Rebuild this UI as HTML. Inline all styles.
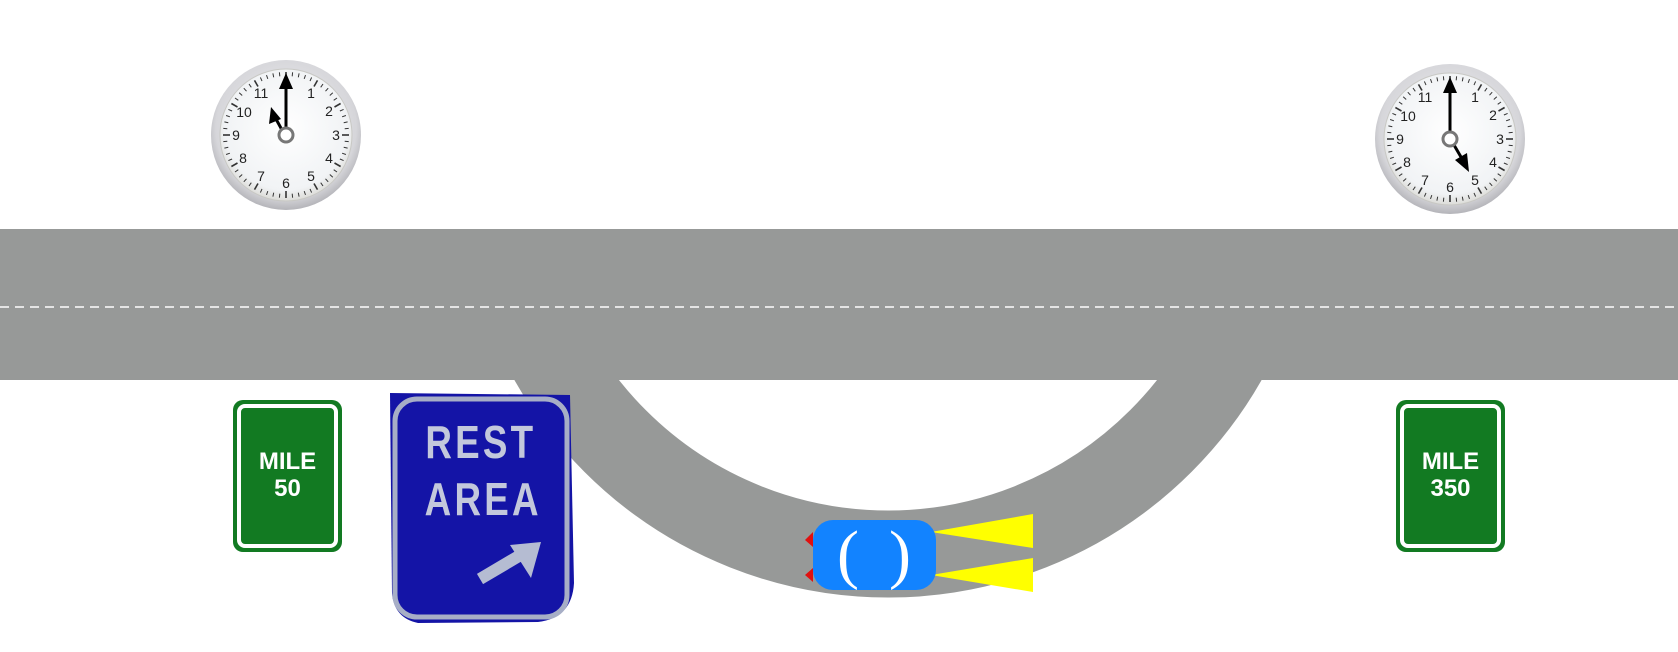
<!DOCTYPE html>
<html><head><meta charset="utf-8"><style>
html,body{margin:0;padding:0;background:#fff;}
svg{display:block;}
</style></head><body>
<svg id="s" width="1678" height="652" viewBox="0 0 1678 652" xmlns="http://www.w3.org/2000/svg">
<defs>
<radialGradient id="bez" cx="50%" cy="45%" r="55%">
<stop offset="0%" stop-color="#f4f4f6"/><stop offset="85%" stop-color="#d6d6da"/><stop offset="100%" stop-color="#b4b4b9"/>
</radialGradient>
<radialGradient id="face" cx="50%" cy="45%" r="55%">
<stop offset="0%" stop-color="#ffffff"/><stop offset="85%" stop-color="#f1f3f5"/><stop offset="100%" stop-color="#dcdcd8"/>
</radialGradient>
</defs>
<circle cx="888" cy="168" r="386" fill="none" stroke="#979998" stroke-width="87"/>
<rect x="0" y="0" width="1678" height="229" fill="#fff"/>
<rect x="0" y="229" width="1678" height="151" fill="#979998"/>
<line x1="0" y1="307" x2="1678" y2="307" stroke="#e4e4e4" stroke-width="2" stroke-dasharray="9,6"/>

<g transform="translate(286,135)">
<circle r="75" fill="url(#bez)"/>
<circle r="66" fill="url(#face)" stroke="#c8c8c4" stroke-width="1"/>
<g id="t1"></g>
<g font-family="Liberation Sans, sans-serif" font-size="14" fill="#222" text-anchor="middle">
<text x="25" y="-37">1</text><text x="43" y="-19">2</text><text x="50" y="5">3</text><text x="43" y="28">4</text><text x="25" y="46">5</text><text x="0" y="53">6</text><text x="-25" y="46">7</text><text x="-43" y="28">8</text><text x="-50" y="5">9</text><text x="-42" y="-18">10</text><text x="-25" y="-37">11</text>
</g>
<line x1="0" y1="-7" x2="0" y2="-48" stroke="#000" stroke-width="3"/>
<polygon points="0,-62 -7,-46 7,-46" fill="#000"/>
<line x1="-4" y1="-5" x2="-10" y2="-16" stroke="#000" stroke-width="3"/>
<polygon points="-15,-28 -17,-11 -5,-16" fill="#000"/>
<circle r="7" fill="#fff" stroke="#777" stroke-width="3"/>
</g>
<g transform="translate(1450,139)">
<circle r="75" fill="url(#bez)"/>
<circle r="66" fill="url(#face)" stroke="#c8c8c4" stroke-width="1"/>
<g id="t2"></g>
<g font-family="Liberation Sans, sans-serif" font-size="14" fill="#222" text-anchor="middle">
<text x="25" y="-37">1</text><text x="43" y="-19">2</text><text x="50" y="5">3</text><text x="43" y="28">4</text><text x="25" y="46">5</text><text x="0" y="53">6</text><text x="-25" y="46">7</text><text x="-43" y="28">8</text><text x="-50" y="5">9</text><text x="-42" y="-18">10</text><text x="-25" y="-37">11</text>
</g>
<line x1="0" y1="-7" x2="0" y2="-48" stroke="#000" stroke-width="3"/>
<polygon points="0,-62 -7,-46 7,-46" fill="#000"/>
<line x1="4" y1="6" x2="11" y2="18" stroke="#000" stroke-width="3"/>
<polygon points="19,33 5,21 17,14" fill="#000"/>
<circle r="7" fill="#fff" stroke="#777" stroke-width="3"/>
</g>

<g transform="translate(233,400)">
<rect x="0" y="0" width="109" height="152" rx="10" fill="#127a22"/>
<rect x="6" y="6" width="97" height="140" rx="6" fill="none" stroke="#fff" stroke-width="4"/>
<text x="54.5" y="69" font-family="Liberation Sans, sans-serif" font-weight="bold" font-size="24" fill="#fff" text-anchor="middle">MILE</text>
<text x="54.5" y="96" font-family="Liberation Sans, sans-serif" font-weight="bold" font-size="24" fill="#fff" text-anchor="middle">50</text>
</g>
<g transform="translate(1396,400)">
<rect x="0" y="0" width="109" height="152" rx="10" fill="#127a22"/>
<rect x="6" y="6" width="97" height="140" rx="6" fill="none" stroke="#fff" stroke-width="4"/>
<text x="54.5" y="69" font-family="Liberation Sans, sans-serif" font-weight="bold" font-size="24" fill="#fff" text-anchor="middle">MILE</text>
<text x="54.5" y="96" font-family="Liberation Sans, sans-serif" font-weight="bold" font-size="24" fill="#fff" text-anchor="middle">350</text>
</g>

<g transform="translate(388,393)">
<path d="M2,0 L182,2 L186,190 Q184,225 150,229 L30,230 Q6,225 4,200 Z" fill="#1414a6"/>
<rect x="7" y="6" width="172" height="218" rx="22" fill="none" stroke="#a7aec6" stroke-width="5"/>
<g transform="scale(0.8,1)">
<text x="116" y="65" font-family="Liberation Sans, sans-serif" font-weight="bold" font-size="46" fill="#c3c8dc" text-anchor="middle" letter-spacing="4">REST</text>
<text x="119" y="122" font-family="Liberation Sans, sans-serif" font-weight="bold" font-size="46" fill="#c3c8dc" text-anchor="middle" letter-spacing="4">AREA</text>
</g>
<line x1="92" y1="186" x2="136" y2="160" stroke="#b5bcd2" stroke-width="12"/>
<polygon points="153,149 122,152 143,185" fill="#b5bcd2"/>
</g>

<polygon points="813,532 805,540 813,547" fill="#e01010"/>
<polygon points="813,568 805,575 813,582" fill="#e01010"/>
<polygon points="931,532 1033,514 1033,548" fill="#ffff00"/>
<polygon points="931,575 1033,558 1033,592" fill="#ffff00"/>
<rect x="813" y="520" width="123" height="70" rx="20" fill="#1283ff"/>
<text x="848" y="576" font-family="Liberation Serif, serif" font-size="66" fill="#fff" text-anchor="middle">(</text>
<text x="900" y="576" font-family="Liberation Serif, serif" font-size="66" fill="#fff" text-anchor="middle">)</text>
</svg>
<script>
function ticks(id){var g=document.getElementById(id);var s="";for(var i=0;i<60;i++){var a=i*Math.PI/30;var r1=i%5==0?56:59,r2=63;s+='<line x1="'+(Math.sin(a)*r1).toFixed(1)+'" y1="'+(-Math.cos(a)*r1).toFixed(1)+'" x2="'+(Math.sin(a)*r2).toFixed(1)+'" y2="'+(-Math.cos(a)*r2).toFixed(1)+'" stroke="#333" stroke-width="'+(i%5==0?1.6:1)+'"/>';}g.innerHTML=s;}
ticks("t1");ticks("t2");
</script>
</body></html>
